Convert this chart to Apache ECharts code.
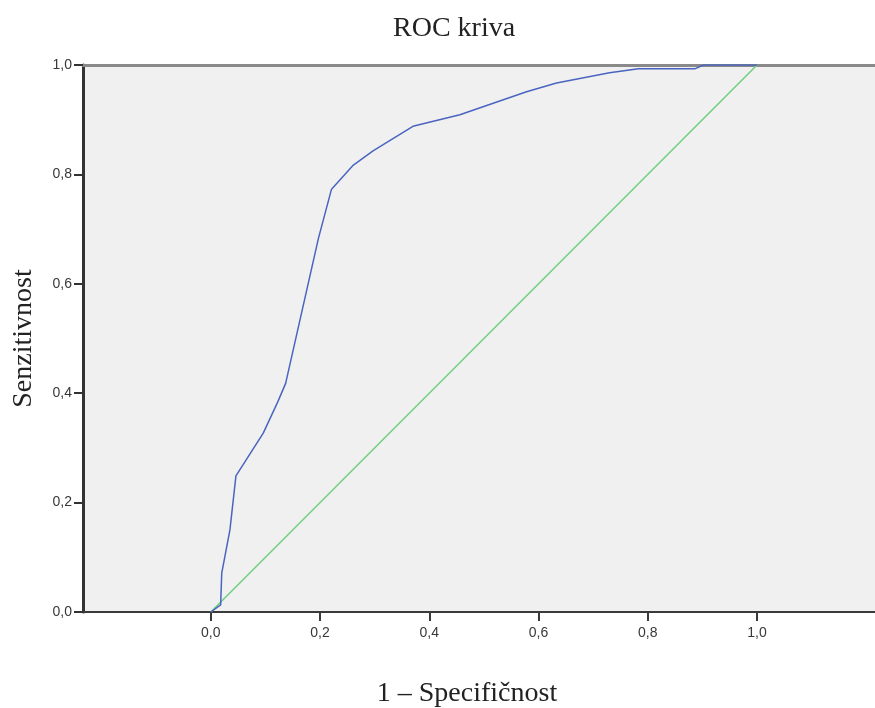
<!DOCTYPE html>
<html>
<head>
<meta charset="utf-8">
<script src="https://cdn.jsdelivr.net/npm/echarts@6/dist/echarts.min.js"></script>
<style>
  html, body { margin: 0; padding: 0; background: #fff; }
  #chart { width: 875px; height: 708px; }
</style>
</head>
<body>
<div id="chart"></div>
<script>
  // ROC curve points: 1 - specificity, sensitivity
  const rocX = [0, 0.018, 0.020, 0.035, 0.046, 0.096, 0.123, 0.137, 0.197, 0.221, 0.261, 0.297, 0.370, 0.456, 0.578, 0.633, 0.730, 0.783, 0.886, 0.902, 1.0]
  const rocY = [0, 0.013, 0.071, 0.150, 0.249, 0.327, 0.385, 0.418, 0.683, 0.773, 0.817, 0.843, 0.888, 0.909, 0.951, 0.967, 0.986, 0.993, 0.993, 1.0, 1.0]
  const refX = [0, 1]
  const refY = [0, 1]
  const tickValues = [0, 0.2, 0.4, 0.6, 0.8, 1.0]

  const fmt = v => v.toFixed(1).replace('.', ',')
  const serif = '"Liberation Serif", "Times New Roman", serif'
  const sans = '"Liberation Sans", Arial, sans-serif'

  const chart = echarts.init(document.getElementById('chart'))

  const option = {
    animation: false,
    title: {
      text: 'ROC kriva',
      left: 388,
      top: 10,
      textStyle: { fontFamily: serif, fontSize: 28, fontWeight: 'normal', color: '#222' }
    },
    grid: {
      left: 83,
      right: 0,
      top: 65,
      bottom: 96,
      outerBoundsMode: 'none',
      show: true,
      backgroundColor: '#f0f0f0',
      borderWidth: 0
    },
    xAxis: [
      {
        type: 'value',
        min: -0.234,
        max: 1.216,
        name: '1 – Specifičnost',
        nameLocation: 'middle',
        nameGap: 68,
        nameTextStyle: { fontFamily: serif, fontSize: 28, color: '#222', padding: [0, 24, 0, 0] },
        splitLine: { show: false },
        axisLine: { onZero: false, lineStyle: { color: '#3a3a3a', width: 2 } },
        axisTick: { customValues: tickValues, length: 9, lineStyle: { color: '#3a3a3a', width: 2 } },
        axisLabel: {
          customValues: tickValues,
          margin: 14,
          fontFamily: sans,
          fontSize: 14,
          color: '#383838',
          formatter: fmt
        }
      },
      {
        type: 'value',
        position: 'top',
        min: -0.234,
        max: 1.216,
        splitLine: { show: false },
        axisLine: { onZero: false, lineStyle: { color: '#8a8a8a', width: 3 } },
        axisTick: { show: false },
        axisLabel: { show: false }
      }
    ],
    yAxis: {
      type: 'value',
      min: 0,
      max: 1,
      interval: 0.2,
      name: 'Senzitivnost',
      nameLocation: 'middle',
      nameGap: 45,
      nameTextStyle: { fontFamily: serif, fontSize: 28, color: '#222' },
      splitLine: { show: false },
      axisLine: { show: true, onZero: false, lineStyle: { color: '#333', width: 3 } },
      axisTick: { show: true, length: 9, lineStyle: { color: '#333', width: 2 } },
      axisLabel: {
        margin: 11,
        fontFamily: sans,
        fontSize: 14,
        color: '#383838',
        formatter: fmt
      }
    },
    series: [
      {
        type: 'line',
        data: refX.map((x, i) => [x, refY[i]]),
        showSymbol: false,
        lineStyle: { color: '#6fcf7f', width: 1.5 },
        z: 2
      },
      {
        type: 'line',
        data: rocX.map((x, i) => [x, rocY[i]]),
        showSymbol: false,
        lineStyle: { color: '#4a64c0', width: 1.5 },
        z: 3
      }
    ]
  }

  chart.setOption(option)
</script>
</body>
</html>
